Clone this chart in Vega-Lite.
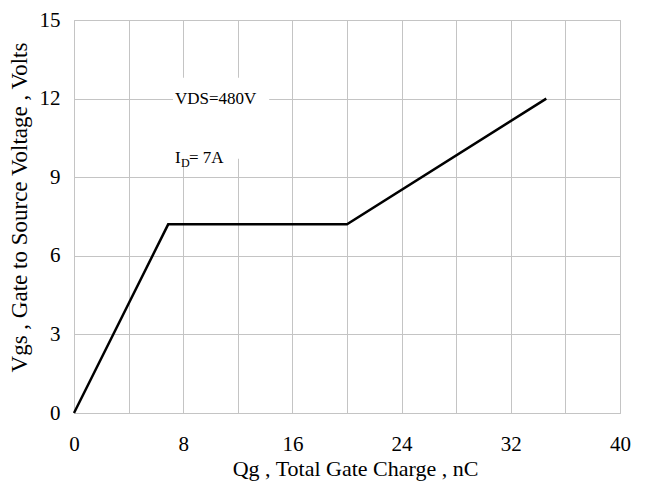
{
  "$schema": "https://vega.github.io/schema/vega-lite/v6.json",
  "width": 546,
  "height": 393,
  "autosize": "none",
  "padding": {"left": 74, "top": 20, "right": 26, "bottom": 71},
  "background": "white",
  "config": {
    "font": "Liberation Serif, Times New Roman, serif",
    "view": {"stroke": "#bdbdbd", "strokeWidth": 1},
    "axis": {
      "gridColor": "#c4c4c4",
      "gridWidth": 1,
      "gridOpacity": 1,
      "domain": false,
      "ticks": false,
      "labelFlush": false,
      "labelFont": "Liberation Serif, Times New Roman, serif",
      "labelFontSize": 21,
      "labelColor": "#000000",
      "titleFont": "Liberation Serif, Times New Roman, serif",
      "titleFontSize": 22,
      "titleFontWeight": "normal",
      "titleColor": "#000000"
    }
  },
  "datasets": {
    "curve": [
      {"qg": 0, "vgs": 0},
      {"qg": 6.9, "vgs": 7.2},
      {"qg": 20, "vgs": 7.2},
      {"qg": 34.6, "vgs": 12}
    ],
    "box": [
      {"x1": 7.25, "x2": 14.3, "y1": 9.7, "y2": 12.8}
    ],
    "notes": [
      {"qg": 7.4, "vgs": 12.0, "part": "main", "txt": "VDS=480V"},
      {"qg": 7.4, "vgs": 9.75, "part": "main", "txt": "I"},
      {"qg": 7.4, "vgs": 9.75, "part": "sub", "txt": "D"},
      {"qg": 7.4, "vgs": 9.75, "part": "rest", "txt": "= 7A"}
    ]
  },
  "layer": [
    {
      "data": {"name": "box"},
      "mark": {"type": "rect", "fill": "white", "stroke": null},
      "encoding": {
        "x": {"field": "x1", "type": "quantitative", "scale": {"domain": [0, 40], "nice": false},
          "axis": {
            "values": [0, 4, 8, 12, 16, 20, 24, 28, 32, 36, 40],
            "labelExpr": "datum.value % 8 == 0 ? datum.label : ''",
            "labelPadding": 20,
            "title": "Qg , Total Gate Charge , nC",
            "titleX": 281,
            "titlePadding": 4
          }},
        "x2": {"field": "x2"},
        "y": {"field": "y1", "type": "quantitative", "scale": {"domain": [0, 15], "nice": false},
          "axis": {
            "values": [0, 1.5, 3, 4.5, 6, 7.5, 9, 10.5, 12, 13.5, 15],
            "labelExpr": "datum.value % 3 == 0 ? datum.label : ''",
            "labelPadding": 14,
            "title": "Vgs , Gate to Source Voltage , Volts",
            "titleFontSize": 23,
            "titleY": 187,
            "titlePadding": 8
          }},
        "y2": {"field": "y2"}
      }
    },
    {
      "data": {"name": "curve"},
      "mark": {"type": "line", "color": "#000000", "strokeWidth": 2.5},
      "encoding": {
        "x": {"field": "qg", "type": "quantitative"},
        "y": {"field": "vgs", "type": "quantitative"}
      }
    },
    {
      "data": {"name": "notes"},
      "transform": [{"filter": "datum.part == 'main'"}],
      "mark": {"type": "text", "align": "left", "baseline": "middle", "fontSize": 17, "font": "Liberation Serif, Times New Roman, serif", "color": "#000000"},
      "encoding": {
        "x": {"field": "qg", "type": "quantitative"},
        "y": {"field": "vgs", "type": "quantitative"},
        "text": {"field": "txt"}
      }
    },
    {
      "data": {"name": "notes"},
      "transform": [{"filter": "datum.part == 'sub'"}],
      "mark": {"type": "text", "align": "left", "baseline": "middle", "fontSize": 12, "dx": 6, "dy": 5, "font": "Liberation Serif, Times New Roman, serif", "color": "#000000"},
      "encoding": {
        "x": {"field": "qg", "type": "quantitative"},
        "y": {"field": "vgs", "type": "quantitative"},
        "text": {"field": "txt"}
      }
    },
    {
      "data": {"name": "notes"},
      "transform": [{"filter": "datum.part == 'rest'"}],
      "mark": {"type": "text", "align": "left", "baseline": "middle", "fontSize": 17, "dx": 14, "font": "Liberation Serif, Times New Roman, serif", "color": "#000000"},
      "encoding": {
        "x": {"field": "qg", "type": "quantitative"},
        "y": {"field": "vgs", "type": "quantitative"},
        "text": {"field": "txt"}
      }
    }
  ]
}
